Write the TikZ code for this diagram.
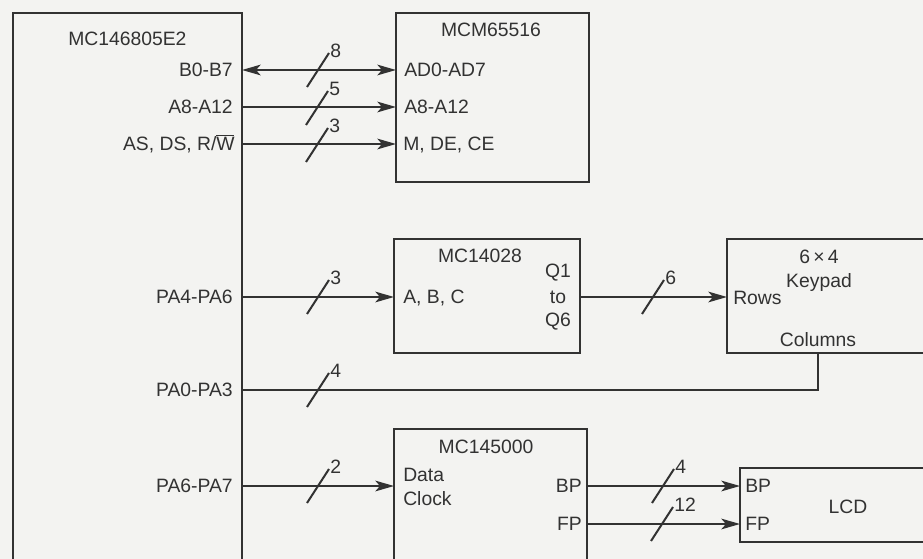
\documentclass[tikz,border=0pt]{standalone}
\usepackage{fontspec}
\setmainfont{Liberation Sans}
\usetikzlibrary{arrows.meta}
\definecolor{ink}{RGB}{50,50,50}
\definecolor{paper}{RGB}{243,243,241}
\newdimen\pxu \pxu=0.75pt
\newcommand\busw[4]{%
  \draw[slashline] (#2-11,#3+17) -- (#2+11,#3-17);
  \node[numlbl] (#1) at (#2+12,#3-19) {#4};}
\tikzset{
  box/.style={draw=ink, line width=2.2pt, rectangle, inner sep=0pt, outer sep=0pt, anchor=north west},
  txt/.style={text=ink, font=\fontsize{14.5pt}{16pt}\selectfont, inner sep=0pt, text height=10.4pt, text depth=0pt},
  numlbl/.style={txt, anchor=west},
  wire/.style={draw=ink, line width=1.5pt},
  arr/.style={wire, -{Stealth[length=14pt,width=8pt,inset=3.5pt]}},
  barr/.style={wire, {Stealth[length=14pt,width=8pt,inset=3.5pt]}-{Stealth[length=14pt,width=8pt,inset=3.5pt]}},
  slashline/.style={draw=ink, line width=1.5pt}
}
\begin{document}
\begin{tikzpicture}[x=0.75pt,y=-0.75pt]
\fill[paper] (0,0) rectangle (923,559);
\useasboundingbox (0,0) rectangle (923,559);
\clip (0,0) rectangle (923,559);
% boxes
\node[box, minimum width=229\pxu, minimum height=600\pxu] (mcu) at (13,13) {};
\node[box, minimum width=193\pxu, minimum height=169\pxu] (mem) at (396,13) {};
\node[box, minimum width=186\pxu, minimum height=114\pxu] (dec) at (394,239) {};
\node[box, minimum width=210\pxu, minimum height=114\pxu] (kp) at (727,239) {};
\node[box, minimum width=193\pxu, minimum height=200\pxu] (drv) at (394,429) {};
\node[box, minimum width=200\pxu, minimum height=74\pxu] (lcd) at (740,468) {};
% texts MCU
\node[txt, anchor=west] (tmcu) at (68,39) {MC146805E2};
\node[txt, anchor=east] (pb) at (233,70) {B0-B7};
\node[txt, anchor=east] (pa) at (233,107) {A8-A12};
\node[txt, anchor=east] (pc) at (235,144) {AS, DS, R/\mbox{}\rlap{\rule[11pt]{0.9em}{0.7pt}}W};
\node[txt, anchor=east] (ppa4) at (233,297) {PA4-PA6};
\node[txt, anchor=east] (ppa0) at (233,390) {PA0-PA3};
\node[txt, anchor=east] (ppa6) at (233,486) {PA6-PA7};
% memory
\node[txt] (tmem) at (491,30) {MCM65516};
\node[txt, anchor=west] (mad) at (404,70) {AD0-AD7};
\node[txt, anchor=west] (ma) at (404,107) {A8-A12};
\node[txt, anchor=west] (mc) at (403,144) {M, DE, CE};
% decoder
\node[txt] (tdec) at (480,256) {MC14028};
\node[txt, anchor=west] (dabc) at (403,297) {A, B, C};
\node[txt] (dq1) at (558,271) {Q1};
\node[txt] (dto) at (558,297) {to};
\node[txt] (dq6) at (558,320) {Q6};
% keypad
\node[txt] (k64) at (819,257) {6\,\symbol{"00D7}\,4};
\node[txt] (kkp) at (819,281) {Keypad};
\node[txt, anchor=west] (krows) at (733,298) {Rows};
\node[txt] (kcol) at (818,340) {Columns};
% driver
\node[txt] (tdrv) at (486,447) {MC145000};
\node[txt, anchor=west] (ddata) at (403,475) {Data};
\node[txt, anchor=west] (dclk) at (403,499) {Clock};
\node[txt, anchor=east] (dbp) at (582,486) {BP};
\node[txt, anchor=east] (dfp) at (582,524) {FP};
% lcd
\node[txt, anchor=west] (lbp) at (745,486) {BP};
\node[txt, anchor=west] (lfp) at (745,524) {FP};
\node[txt] (tlcd) at (848,507) {LCD};
% wires
\draw[barr] (pb -| mcu.east) -- (pb -| mem.west);
\draw[arr] (pa -| mcu.east) -- (pa -| mem.west);
\draw[arr] (pc -| mcu.east) -- (pc -| mem.west);
\draw[arr] (ppa4 -| mcu.east) -- (ppa4 -| dec.west);
\draw[arr] (dto -| dec.east) -- (dto -| kp.west);
\draw[wire] (ppa0 -| mcu.east) -- (ppa0 -| kcol) -- (kp.south -| kcol);
\draw[arr] (ppa6 -| mcu.east) -- (ppa6 -| drv.west);
\draw[arr] (dbp -| drv.east) -- (dbp -| lcd.west);
\draw[arr] (dfp -| drv.east) -- (dfp -| lcd.west);
% bus width marks
\busw{n8}{318}{70}{8}
\busw{n5}{317}{108}{5}
\busw{n3a}{317}{145}{3}
\busw{n3b}{318}{297}{3}
\busw{n6}{653}{297}{6}
\busw{n4a}{318}{390}{4}
\busw{n2}{318}{486}{2}
\busw{n4b}{663}{486}{4}
\busw{n12}{662}{524}{12}
\end{tikzpicture}
\end{document}
